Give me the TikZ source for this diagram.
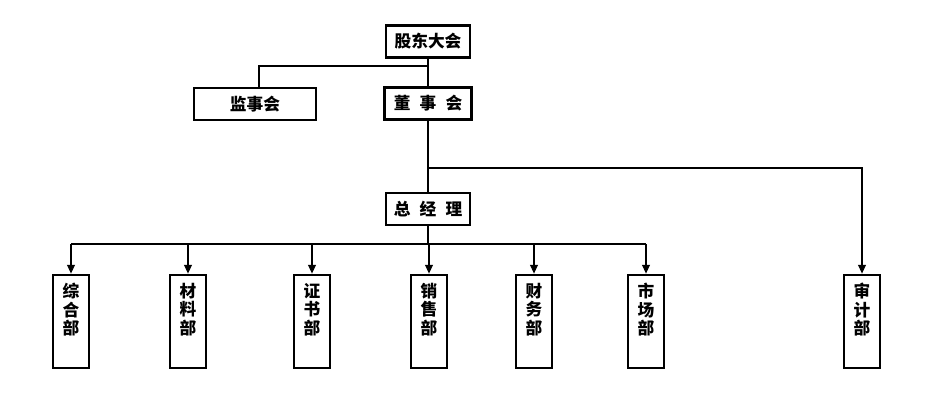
\documentclass[tikz,border=0pt]{standalone}
\usepackage{fontspec}
\newfontfamily\cjk{Noto Sans CJK SC}
\usetikzlibrary{positioning, calc, arrows.meta}
\newcommand{\vtext}[1]{\parbox[c][1.86cm][t]{0.72cm}{\centering\vspace*{0.16cm}#1}}

\begin{document}
\begin{tikzpicture}[
    x=0.02cm, y=-0.02cm,
    box/.style={rectangle, draw=black, line width=1.6pt, minimum height=0.64cm,
                inner sep=0pt, align=center, font=\cjk\bfseries\fontsize{9.5}{11}\selectfont},
    dept/.style={rectangle, draw=black, line width=1.6pt, inner sep=0pt,
                 font=\cjk\bfseries\fontsize{9.5}{10.6}\selectfont},
    link/.style={line width=0.6pt},
    arrow/.style={link, -{Triangle[length=5pt, width=4.5pt]}}
  ]
    \path[use as bounding box, fill=white] (0,0) rectangle (927,418);

    % Top: shareholders, supervisors, board, manager
    \node[box, minimum width=1.68cm] (GD) at (428,41.5) {股东大会};
    \node[box, minimum width=2.44cm] (JS) at (255,104) {监事会};
    \node[box, minimum width=1.74cm] (DS) at (428,103.5) {董\hspace{.55em}事\hspace{.55em}会};
    \node[box, minimum width=1.68cm] (ZJL) at (428,209) {总\hspace{.55em}经\hspace{.55em}理};

    % Departments
    \node[dept] (ZH) at (71,321.5) {\vtext{综\\合\\部}};
    \node[dept] (CL) at (188,321.5) {\vtext{材\\料\\部}};
    \node[dept] (ZS) at (312,321.5) {\vtext{证\\书\\部}};
    \node[dept] (XS) at (429,321.5) {\vtext{销\\售\\部}};
    \node[dept] (CW) at (534,321.5) {\vtext{财\\务\\部}};
    \node[dept] (SC) at (646,321.5) {\vtext{市\\场\\部}};
    \node[dept] (SJ) at (862,321.5) {\vtext{审\\计\\部}};

    % Bus lines
    \coordinate (topbus) at (259,66);
    \coordinate (auditbus) at (0,168);
    \coordinate (deptbus) at (0,244);

    \draw[link] (GD) -- (DS);
    \draw[link] (GD.south |- topbus) -- (topbus) -- (topbus |- JS.north);
    \draw[link] (DS) -- (ZJL);
    \draw[arrow] (DS.south |- auditbus) -| (SJ.north);
    \draw[link] (ZJL) -- (ZJL.south |- deptbus);
    \draw[link] (ZH.north |- deptbus) -- (SC.north |- deptbus);
    \foreach \d in {ZH, CL, ZS, XS, CW, SC}
      \draw[arrow] (\d.north |- deptbus) -- (\d.north);
\end{tikzpicture}
\end{document}
